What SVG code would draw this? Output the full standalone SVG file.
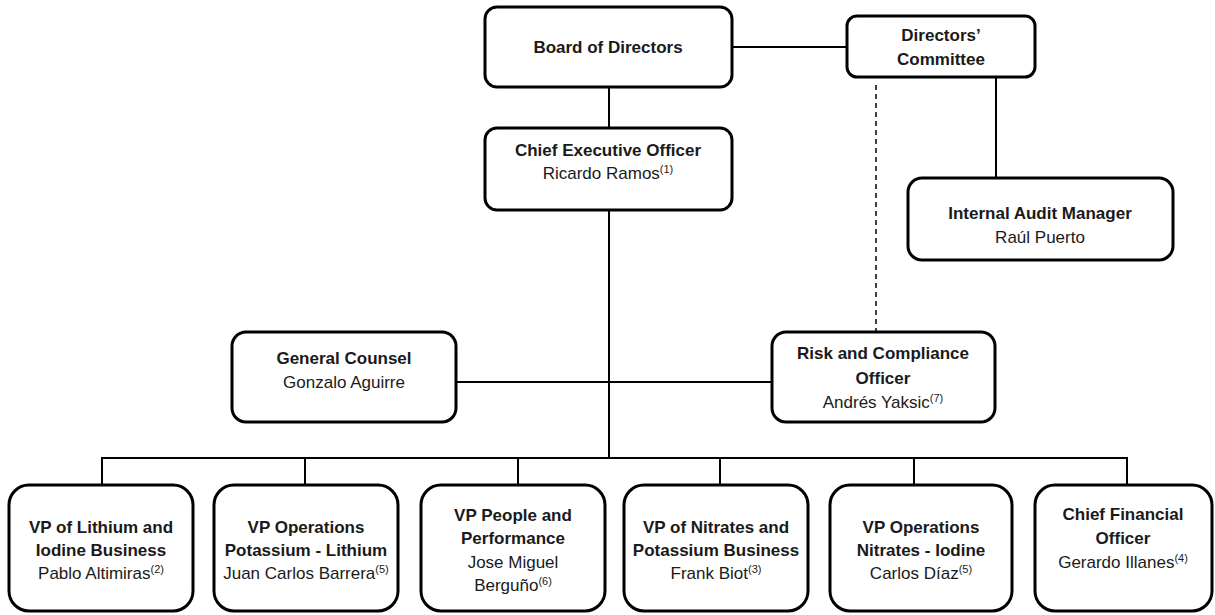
<svg xmlns="http://www.w3.org/2000/svg" width="1215" height="615" viewBox="0 0 1215 615">
<style>
.box{fill:#fff;stroke:#000;stroke-width:3}
.ln{stroke:#000;stroke-width:2;fill:none}
.dash{stroke:#000;stroke-width:1.5;fill:none;stroke-dasharray:5 4}
text{font-family:"Liberation Sans",Arial,sans-serif;font-size:17px;fill:#1a1a1a;text-anchor:middle}
.b{font-weight:bold}
.sup{font-size:11px}
</style>
<rect width="1215" height="615" fill="#fff"/>
<g id="connectors">
<line class="ln" x1="732" y1="47" x2="847" y2="47"/>
<line class="ln" x1="609" y1="87" x2="609" y2="128"/>
<line class="ln" x1="609" y1="210" x2="609" y2="458"/>
<line class="ln" x1="996" y1="77" x2="996" y2="178"/>
<line class="dash" x1="876" y1="85" x2="876" y2="332"/>
<line class="ln" x1="456" y1="382" x2="772" y2="382"/>
<line class="ln" x1="101" y1="458" x2="1128" y2="458"/>
<line class="ln" x1="102" y1="458" x2="102" y2="485"/>
<line class="ln" x1="305" y1="458" x2="305" y2="485"/>
<line class="ln" x1="518" y1="458" x2="518" y2="485"/>
<line class="ln" x1="720" y1="458" x2="720" y2="485"/>
<line class="ln" x1="914" y1="458" x2="914" y2="485"/>
<line class="ln" x1="1127" y1="458" x2="1127" y2="485"/>
</g>
<g id="board">
<rect class="box" x="485" y="7" width="247" height="80" rx="12"/>
<text class="b" x="608" y="53">Board of Directors</text>
</g>
<g id="committee">
<rect class="box" x="847" y="16" width="188" height="61" rx="10"/>
<text class="b" x="941" y="41">Directors’</text>
<text class="b" x="941" y="65">Committee</text>
</g>
<g id="ceo">
<rect class="box" x="485" y="128" width="247" height="82" rx="12"/>
<text class="b" x="608" y="156">Chief Executive Officer</text>
<text x="608" y="179">Ricardo Ramos<tspan class="sup" dy="-6">(1)</tspan></text>
</g>
<g id="audit">
<rect class="box" x="908" y="178" width="265" height="82" rx="14"/>
<text class="b" x="1040" y="219">Internal Audit Manager</text>
<text x="1040" y="243">Raúl Puerto</text>
</g>
<g id="counsel">
<rect class="box" x="232" y="332" width="224" height="90" rx="14"/>
<text class="b" x="344" y="364">General Counsel</text>
<text x="344" y="388">Gonzalo Aguirre</text>
</g>
<g id="risk">
<rect class="box" x="772" y="332" width="223" height="90" rx="14"/>
<text class="b" x="883" y="359">Risk and Compliance</text>
<text class="b" x="883" y="384">Officer</text>
<text x="883" y="408">Andrés Yaksic<tspan class="sup" dy="-6">(7)</tspan></text>
</g>
<g id="vp1">
<rect class="box" x="9" y="485" width="184" height="126" rx="20"/>
<text class="b" x="101" y="533">VP of Lithium and</text>
<text class="b" x="101" y="556">Iodine Business</text>
<text x="101" y="579">Pablo Altimiras<tspan class="sup" dy="-6">(2)</tspan></text>
</g>
<g id="vp2">
<rect class="box" x="214" y="485" width="184" height="126" rx="20"/>
<text class="b" x="306" y="533">VP Operations</text>
<text class="b" x="306" y="556">Potassium - Lithium</text>
<text x="306" y="579">Juan Carlos Barrera<tspan class="sup" dy="-6">(5)</tspan></text>
</g>
<g id="vp3">
<rect class="box" x="421" y="485" width="184" height="126" rx="20"/>
<text class="b" x="513" y="521">VP People and</text>
<text class="b" x="513" y="544">Performance</text>
<text x="513" y="568">Jose Miguel</text>
<text x="513" y="591">Berguño<tspan class="sup" dy="-6">(6)</tspan></text>
</g>
<g id="vp4">
<rect class="box" x="624" y="485" width="184" height="126" rx="20"/>
<text class="b" x="716" y="533">VP of Nitrates and</text>
<text class="b" x="716" y="556">Potassium Business</text>
<text x="716" y="579">Frank Biot<tspan class="sup" dy="-6">(3)</tspan></text>
</g>
<g id="vp5">
<rect class="box" x="830" y="485" width="182" height="126" rx="20"/>
<text class="b" x="921" y="533">VP Operations</text>
<text class="b" x="921" y="556">Nitrates - Iodine</text>
<text x="921" y="579">Carlos Díaz<tspan class="sup" dy="-6">(5)</tspan></text>
</g>
<g id="cfo">
<rect class="box" x="1035" y="485" width="177" height="126" rx="20"/>
<text class="b" x="1123" y="520">Chief Financial</text>
<text class="b" x="1123" y="544">Officer</text>
<text x="1123" y="568">Gerardo Illanes<tspan class="sup" dy="-6">(4)</tspan></text>
</g>
</svg>
